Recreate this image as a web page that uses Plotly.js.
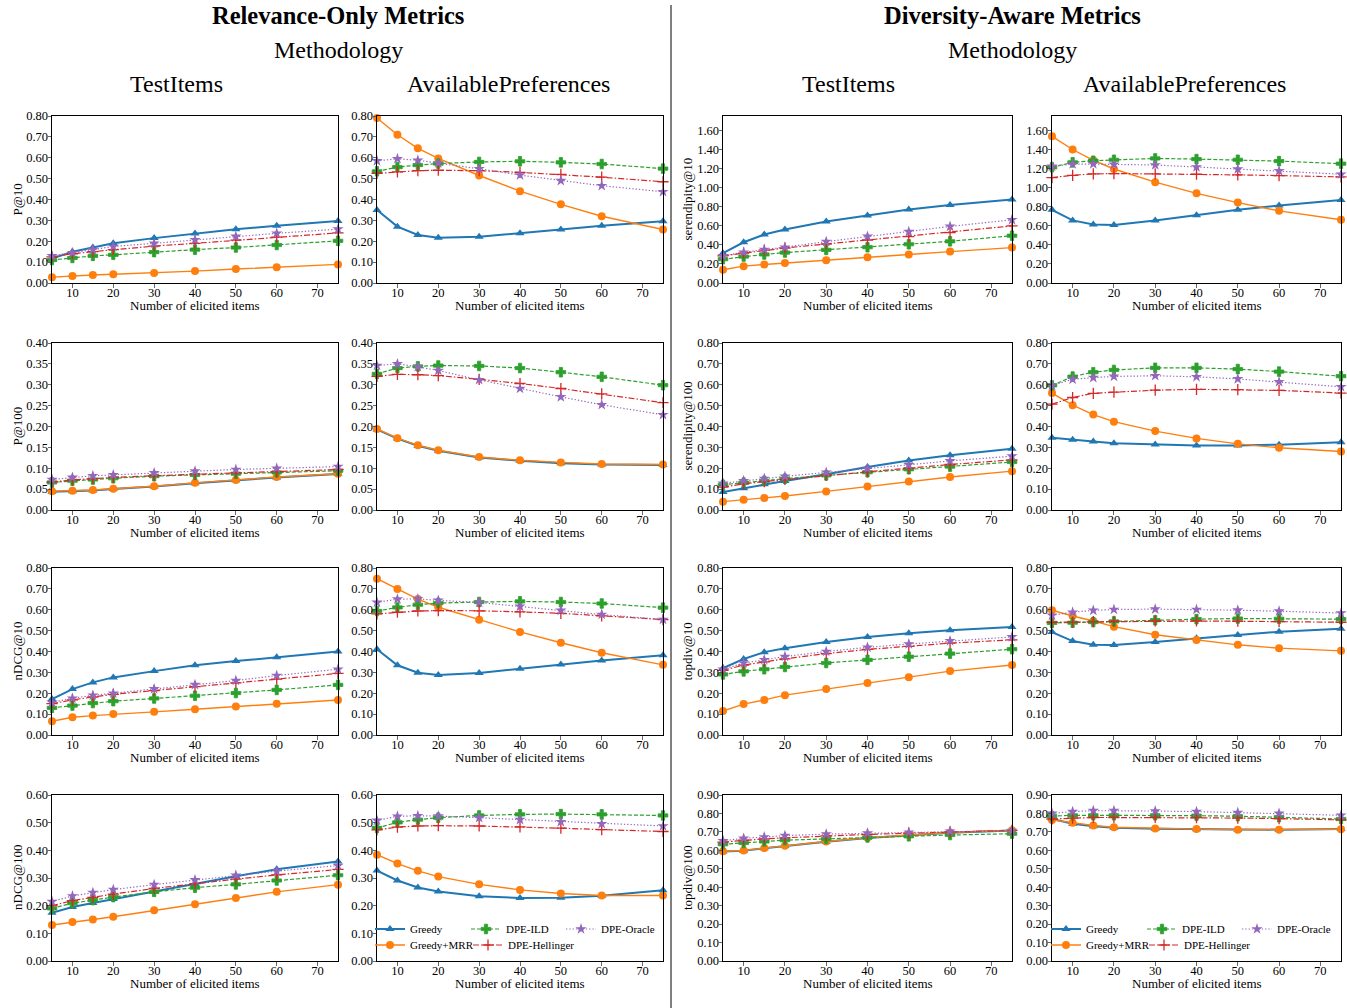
<!DOCTYPE html>
<html><head><meta charset="utf-8">
<script src="https://cdn.plot.ly/plotly-3.0.1.min.js"></script>
<style>html,body{margin:0;padding:0;background:#fff;overflow:hidden}#chart{width:1347px;height:1008px;overflow:hidden}</style>
</head><body><div id="chart"></div>
<script>
// ---------- DATA ----------
const elicited = [5, 10, 15, 20, 30, 40, 50, 60, 75];
const methods = ['Greedy', 'Greedy+MRR', 'DPE-ILD', 'DPE-Hellinger', 'DPE-Oracle'];
const xTicks = [10, 20, 30, 40, 50, 60, 70];
const xLabel = 'Number of elicited items';

// each panel: rows in method order [Greedy, Greedy+MRR, DPE-ILD, DPE-Hellinger, DPE-Oracle]
const p10Test = [
  [0.117, 0.150, 0.170, 0.190, 0.215, 0.237, 0.257, 0.274, 0.297],
  [0.028, 0.034, 0.038, 0.042, 0.048, 0.057, 0.067, 0.076, 0.089],
  [0.110, 0.120, 0.130, 0.135, 0.148, 0.160, 0.170, 0.182, 0.202],
  [0.125, 0.140, 0.150, 0.160, 0.177, 0.190, 0.205, 0.220, 0.240],
  [0.130, 0.145, 0.160, 0.175, 0.190, 0.207, 0.223, 0.238, 0.258]
];
const p10Avail = [
  [0.350, 0.270, 0.230, 0.217, 0.222, 0.238, 0.256, 0.274, 0.296],
  [0.790, 0.710, 0.645, 0.597, 0.515, 0.440, 0.377, 0.320, 0.256],
  [0.535, 0.555, 0.565, 0.572, 0.580, 0.583, 0.578, 0.570, 0.548],
  [0.525, 0.532, 0.538, 0.540, 0.538, 0.530, 0.520, 0.507, 0.485],
  [0.585, 0.595, 0.588, 0.575, 0.547, 0.517, 0.490, 0.466, 0.437]
];
const seren10Test = [
  [0.313, 0.428, 0.510, 0.563, 0.647, 0.710, 0.772, 0.820, 0.878],
  [0.139, 0.177, 0.195, 0.209, 0.240, 0.271, 0.300, 0.330, 0.372],
  [0.250, 0.278, 0.300, 0.320, 0.348, 0.376, 0.407, 0.438, 0.497],
  [0.285, 0.315, 0.345, 0.368, 0.410, 0.452, 0.487, 0.529, 0.600],
  [0.285, 0.323, 0.351, 0.376, 0.435, 0.490, 0.539, 0.595, 0.664]
];
const seren10Avail = [
  [0.769, 0.658, 0.616, 0.610, 0.658, 0.713, 0.769, 0.814, 0.873],
  [1.541, 1.403, 1.290, 1.198, 1.060, 0.942, 0.845, 0.758, 0.665],
  [1.216, 1.268, 1.285, 1.295, 1.309, 1.302, 1.295, 1.281, 1.254],
  [1.108, 1.132, 1.146, 1.150, 1.146, 1.143, 1.136, 1.129, 1.115],
  [1.226, 1.250, 1.250, 1.246, 1.240, 1.219, 1.198, 1.178, 1.143]
];
const p100Test = [
  [0.044, 0.045, 0.047, 0.050, 0.056, 0.064, 0.071, 0.078, 0.086],
  [0.045, 0.046, 0.048, 0.051, 0.057, 0.065, 0.072, 0.079, 0.087],
  [0.066, 0.070, 0.073, 0.076, 0.081, 0.084, 0.087, 0.090, 0.094],
  [0.067, 0.072, 0.075, 0.078, 0.082, 0.086, 0.089, 0.092, 0.097],
  [0.073, 0.078, 0.082, 0.084, 0.089, 0.093, 0.097, 0.100, 0.104]
];
const p100Avail = [
  [0.193, 0.171, 0.154, 0.142, 0.126, 0.118, 0.112, 0.109, 0.108],
  [0.194, 0.172, 0.155, 0.143, 0.127, 0.119, 0.114, 0.110, 0.109],
  [0.326, 0.340, 0.344, 0.346, 0.345, 0.340, 0.330, 0.319, 0.299],
  [0.320, 0.325, 0.324, 0.322, 0.313, 0.303, 0.291, 0.278, 0.257],
  [0.346, 0.350, 0.343, 0.334, 0.312, 0.291, 0.271, 0.252, 0.228]
];
const seren100Test = [
  [0.086, 0.104, 0.123, 0.139, 0.171, 0.206, 0.237, 0.262, 0.293],
  [0.040, 0.049, 0.057, 0.067, 0.089, 0.113, 0.136, 0.158, 0.186],
  [0.121, 0.131, 0.140, 0.150, 0.166, 0.181, 0.195, 0.208, 0.230],
  [0.110, 0.125, 0.136, 0.146, 0.166, 0.183, 0.200, 0.218, 0.240],
  [0.128, 0.140, 0.151, 0.161, 0.180, 0.198, 0.216, 0.235, 0.258]
];
const seren100Avail = [
  [0.346, 0.336, 0.328, 0.320, 0.314, 0.309, 0.309, 0.313, 0.324],
  [0.560, 0.502, 0.457, 0.423, 0.378, 0.343, 0.317, 0.298, 0.280],
  [0.597, 0.639, 0.660, 0.671, 0.681, 0.681, 0.675, 0.663, 0.641],
  [0.507, 0.539, 0.559, 0.565, 0.574, 0.578, 0.577, 0.573, 0.560],
  [0.597, 0.626, 0.634, 0.640, 0.643, 0.638, 0.628, 0.614, 0.590]
];
const ndcg10Test = [
  [0.172, 0.220, 0.252, 0.276, 0.306, 0.334, 0.354, 0.373, 0.400],
  [0.066, 0.085, 0.093, 0.100, 0.111, 0.123, 0.136, 0.150, 0.168],
  [0.130, 0.141, 0.153, 0.162, 0.175, 0.188, 0.201, 0.216, 0.240],
  [0.150, 0.168, 0.182, 0.195, 0.213, 0.232, 0.250, 0.268, 0.295],
  [0.156, 0.176, 0.190, 0.200, 0.221, 0.241, 0.261, 0.285, 0.315]
];
const ndcg10Avail = [
  [0.411, 0.334, 0.298, 0.288, 0.297, 0.317, 0.338, 0.357, 0.382],
  [0.749, 0.699, 0.651, 0.612, 0.552, 0.494, 0.442, 0.394, 0.336],
  [0.594, 0.611, 0.624, 0.632, 0.637, 0.640, 0.637, 0.630, 0.610],
  [0.580, 0.588, 0.594, 0.596, 0.595, 0.590, 0.583, 0.571, 0.553],
  [0.635, 0.651, 0.652, 0.645, 0.635, 0.616, 0.597, 0.577, 0.553]
];
const topdiv10Test = [
  [0.320, 0.364, 0.397, 0.416, 0.445, 0.469, 0.488, 0.502, 0.517],
  [0.115, 0.148, 0.168, 0.191, 0.220, 0.249, 0.277, 0.306, 0.335],
  [0.290, 0.305, 0.315, 0.326, 0.345, 0.360, 0.375, 0.390, 0.411],
  [0.310, 0.335, 0.350, 0.365, 0.390, 0.410, 0.425, 0.440, 0.456],
  [0.315, 0.345, 0.360, 0.376, 0.400, 0.420, 0.436, 0.451, 0.470]
];
const topdiv10Avail = [
  [0.493, 0.450, 0.432, 0.431, 0.445, 0.463, 0.479, 0.495, 0.509],
  [0.598, 0.570, 0.546, 0.519, 0.480, 0.455, 0.432, 0.416, 0.403],
  [0.537, 0.538, 0.541, 0.544, 0.550, 0.555, 0.558, 0.557, 0.555],
  [0.540, 0.541, 0.543, 0.545, 0.547, 0.546, 0.545, 0.543, 0.540],
  [0.573, 0.588, 0.597, 0.601, 0.603, 0.601, 0.598, 0.593, 0.584]
];
const ndcg100Test = [
  [0.174, 0.195, 0.210, 0.224, 0.250, 0.278, 0.306, 0.332, 0.360],
  [0.130, 0.141, 0.150, 0.160, 0.183, 0.205, 0.228, 0.250, 0.276],
  [0.190, 0.209, 0.220, 0.231, 0.250, 0.265, 0.277, 0.291, 0.310],
  [0.200, 0.218, 0.230, 0.242, 0.262, 0.280, 0.296, 0.311, 0.331],
  [0.215, 0.235, 0.247, 0.258, 0.276, 0.293, 0.310, 0.325, 0.345]
];
const ndcg100Avail = [
  [0.327, 0.291, 0.266, 0.251, 0.234, 0.228, 0.229, 0.236, 0.256],
  [0.384, 0.352, 0.326, 0.305, 0.277, 0.257, 0.244, 0.237, 0.237],
  [0.481, 0.501, 0.511, 0.518, 0.526, 0.530, 0.531, 0.530, 0.526],
  [0.474, 0.484, 0.488, 0.489, 0.488, 0.485, 0.480, 0.475, 0.468],
  [0.508, 0.523, 0.525, 0.524, 0.518, 0.511, 0.503, 0.496, 0.488]
];
const topdiv100Test = [
  [0.594, 0.598, 0.611, 0.624, 0.647, 0.667, 0.683, 0.696, 0.708],
  [0.595, 0.599, 0.612, 0.625, 0.648, 0.668, 0.684, 0.697, 0.709],
  [0.633, 0.640, 0.648, 0.655, 0.662, 0.670, 0.676, 0.683, 0.690],
  [0.645, 0.655, 0.662, 0.668, 0.678, 0.686, 0.693, 0.700, 0.708],
  [0.652, 0.665, 0.672, 0.680, 0.688, 0.693, 0.698, 0.703, 0.707]
];
const topdiv100Avail = [
  [0.770, 0.744, 0.730, 0.722, 0.717, 0.714, 0.712, 0.712, 0.715],
  [0.765, 0.750, 0.735, 0.725, 0.718, 0.715, 0.712, 0.712, 0.714],
  [0.785, 0.790, 0.790, 0.790, 0.790, 0.788, 0.785, 0.780, 0.770],
  [0.770, 0.775, 0.778, 0.778, 0.778, 0.777, 0.775, 0.772, 0.765],
  [0.800, 0.810, 0.815, 0.815, 0.813, 0.810, 0.805, 0.800, 0.790]
];

const yLabels = ['P@10', 'P@100', 'nDCG@10', 'nDCG@100', 'serendipity@10', 'serendipity@100', 'topdiv@10', 'topdiv@100'];

// ---------- LAYOUT / STYLE ----------
const W = 1347, H = 1008;
const FONT = '"Liberation Serif", "DejaVu Serif", serif';
const colPx = [[52, 338], [377, 663], [723, 1012], [1052, 1341]];
const rowPx = [[116, 283], [343, 510], [568, 735], [795, 961]];
const yTitleX = [17, null, 687, null];

const styles = [
  {color: '#1f77b4', dash: 'solid', width: 2.0, symbol: 'triangle-up', size: 8, lw: 0},
  {color: '#ff7f0e', dash: 'solid', width: 1.4, symbol: 'circle', size: 8, lw: 0},
  {color: '#2ca02c', dash: '4px,2px', width: 1.2, symbol: 'cross', size: 8, lw: 0.8},
  {color: '#d62728', dash: '6px,2px,1.5px,2px', width: 1.2, symbol: 'cross-thin-open', size: 8, lw: 1.3},
  {color: '#9467bd', dash: '1.3px,2px', width: 1.2, symbol: 'star', size: 8.5, lw: 0}
];

const panels = [
  {r: 0, c: 0, data: p10Test, yt: yLabels[0], yr: [0, 0.8], dt: 0.1},
  {r: 0, c: 1, data: p10Avail, yt: '', yr: [0, 0.8], dt: 0.1},
  {r: 0, c: 2, data: seren10Test, yt: yLabels[4], yr: [0, 1.755], dt: 0.2},
  {r: 0, c: 3, data: seren10Avail, yt: '', yr: [0, 1.755], dt: 0.2},
  {r: 1, c: 0, data: p100Test, yt: yLabels[1], yr: [0, 0.4], dt: 0.05},
  {r: 1, c: 1, data: p100Avail, yt: '', yr: [0, 0.4], dt: 0.05},
  {r: 1, c: 2, data: seren100Test, yt: yLabels[5], yr: [0, 0.8], dt: 0.1},
  {r: 1, c: 3, data: seren100Avail, yt: '', yr: [0, 0.8], dt: 0.1},
  {r: 2, c: 0, data: ndcg10Test, yt: yLabels[2], yr: [0, 0.8], dt: 0.1},
  {r: 2, c: 1, data: ndcg10Avail, yt: '', yr: [0, 0.8], dt: 0.1},
  {r: 2, c: 2, data: topdiv10Test, yt: yLabels[6], yr: [0, 0.8], dt: 0.1},
  {r: 2, c: 3, data: topdiv10Avail, yt: '', yr: [0, 0.8], dt: 0.1},
  {r: 3, c: 0, data: ndcg100Test, yt: yLabels[3], yr: [0, 0.6], dt: 0.1},
  {r: 3, c: 1, data: ndcg100Avail, yt: '', yr: [0, 0.6], dt: 0.1, legends: ['legend', 'legend2']},
  {r: 3, c: 2, data: topdiv100Test, yt: yLabels[7], yr: [0, 0.9], dt: 0.1},
  {r: 3, c: 3, data: topdiv100Avail, yt: '', yr: [0, 0.9], dt: 0.1, legends: ['legend3', 'legend4']}
];

// legend rows: first row Greedy, DPE-ILD, DPE-Oracle ; second row Greedy+MRR, DPE-Hellinger
const legendRow = [0, 1, 0, 1, 0];
const legendRank = [1, 1, 2, 2, 3];
const legendW = [51, 53, 50, 68, 58];

const traces = [];
const layout = {
  width: W, height: H,
  margin: {l: 0, r: 0, t: 0, b: 0},
  paper_bgcolor: '#fff', plot_bgcolor: '#fff',
  font: {family: FONT, color: '#000', size: 12},
  showlegend: true,
  annotations: [], shapes: []
};

const ann = (text, xpx, ypx, size, bold, angle) => layout.annotations.push({
  text: bold ? '<b>' + text + '</b>' : text, x: xpx / W, y: 1 - ypx / H, xref: 'paper', yref: 'paper',
  xanchor: 'center', yanchor: 'middle', showarrow: false, textangle: angle || 0,
  font: {size: size, family: FONT, color: '#000'}
});

panels.forEach((p, idx) => {
  const n = idx + 1;
  const sfx = n === 1 ? '' : String(n);
  const xs = colPx[p.c], ys = rowPx[p.r];
  layout['xaxis' + sfx] = {
    domain: [xs[0] / W, xs[1] / W], anchor: 'y' + sfx,
    range: [5, 75], tickvals: xTicks, ticks: 'outside', ticklen: 3.5, tickwidth: 0.8,
    ticklabelstandoff: -6,
    showline: true, mirror: true, linecolor: '#000', linewidth: 1, showgrid: false, zeroline: false,
    tickfont: {size: 12.5, family: FONT, color: '#000'}, fixedrange: true
  };
  layout['yaxis' + sfx] = {
    domain: [1 - ys[1] / H, 1 - ys[0] / H], anchor: 'x' + sfx,
    range: p.yr, dtick: p.dt, tick0: 0, tickformat: '.2f', ticks: 'outside', ticklen: 3.5, tickwidth: 0.8,
    ticklabelstandoff: -3,
    showline: true, mirror: true, linecolor: '#000', linewidth: 1, showgrid: false, zeroline: false,
    tickfont: {size: 12.5, family: FONT, color: '#000'}, fixedrange: true
  };
  ann(xLabel, (xs[0] + xs[1]) / 2, ys[1] + 22, 13, false);
  if (p.yt) ann(p.yt, yTitleX[p.c], (ys[0] + ys[1]) / 2, 13, false, -90);
  p.data.forEach((vals, m) => {
    const s = styles[m];
    const t = {
      type: 'scatter', mode: 'lines+markers', name: methods[m],
      x: elicited, y: vals,
      xaxis: 'x' + sfx, yaxis: 'y' + sfx,
      line: {color: s.color, width: s.width, dash: s.dash},
      marker: {symbol: s.symbol, size: s.size, color: s.color, line: {color: s.color, width: s.lw}},
      cliponaxis: false,
      showlegend: false
    };
    if (p.legends) {
      t.showlegend = true;
      t.legend = p.legends[legendRow[m]];
      t.legendrank = legendRank[m];
      t.legendwidth = legendW[m];
    }
    traces.push(t);
  });
});

function legendObj(xpx, ypx) {
  return {
    x: xpx / W, y: 1 - ypx / H, xanchor: 'left', yanchor: 'middle',
    orientation: 'h', bgcolor: 'rgba(255,255,255,0)', borderwidth: 0,
    font: {size: 11, family: FONT, color: '#000'}, itemwidth: 30,
    tracegroupgap: 0, traceorder: 'normal'
  };
}
layout.legend = legendObj(370, 929);
layout.legend2 = legendObj(370, 945);
layout.legend3 = legendObj(1046, 929);
layout.legend4 = legendObj(1046, 945);

// titles
ann('Relevance-Only Metrics', 338, 16, 24.5, true);
ann('Methodology', 338, 50, 24, false);
ann('TestItems', 176, 84, 24, false);
ann('AvailablePreferences', 508, 84, 24, false);
ann('Diversity-Aware Metrics', 1012, 16, 24.5, true);
ann('Methodology', 1012, 50, 24, false);
ann('TestItems', 848, 84, 24, false);
ann('AvailablePreferences', 1184, 84, 24, false);

layout.shapes.push({type: 'line', xref: 'paper', yref: 'paper', x0: 671 / W, x1: 671 / W, y0: 0, y1: 1 - 5 / H,
  line: {color: '#000', width: 1}});

Plotly.newPlot('chart', traces, layout, {staticPlot: true, displayModeBar: false});
</script></body></html>
